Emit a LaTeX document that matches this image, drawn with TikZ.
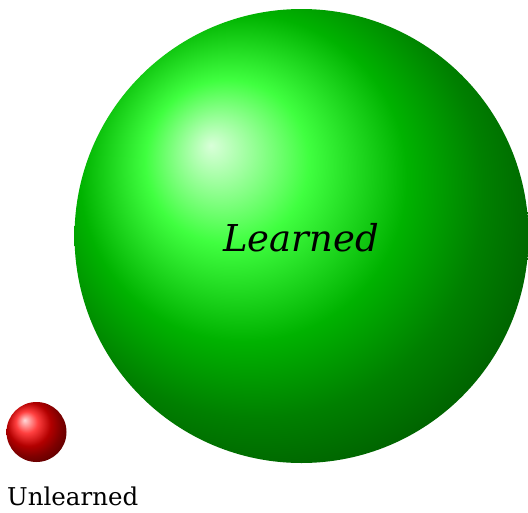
\documentclass[tikz,border=0pt]{standalone}
\usepackage{fontspec}
\setmainfont{DejaVu Serif}
\begin{document}
\begin{tikzpicture}[x=1pt, y=-1pt, every node/.style={inner sep=0pt},
  ball/.style={circle, outer sep=0pt, minimum size=#1}]
  \useasboundingbox (0,0) rectangle (528,512);

  \node[ball=454pt, ball color=green] (big) at (301.5,236) {};
  \node[ball=60pt, ball color=red] (small) at (36.5,432) {};

  \node[font=\fontsize{37}{40}\selectfont\itshape, anchor=base] (learned) at (301,251) {Learned};
  \node[font=\fontsize{24.5}{28}\selectfont, anchor=base west] (unlearned) at (7,505) {Unlearned};
\end{tikzpicture}
\end{document}
